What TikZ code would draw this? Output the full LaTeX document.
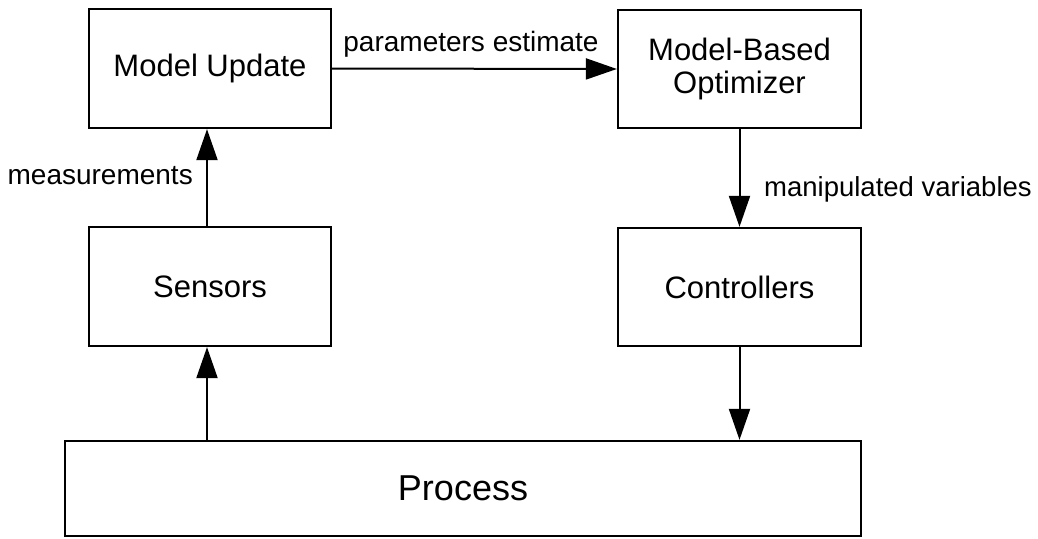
\documentclass[tikz,border=0pt]{standalone}
\usepackage{fontspec}
\setmainfont{Liberation Sans}
\usetikzlibrary{arrows.meta}
\begin{document}
\begin{tikzpicture}[x=1pt,y=-1pt,
  blk/.style={draw=black,line width=2.3pt,inner sep=0pt,align=center,
    font=\fontsize{31}{33}\selectfont},
  lbl/.style={inner sep=0pt,font=\fontsize{28}{30}\selectfont},
  arr/.style={line width=2pt,-{Triangle[length=31pt,width=21pt]}}]
\useasboundingbox (0,0) rectangle (1038,538);
\node[blk,minimum width=242pt,minimum height=119pt] (mu) at (210,68.5) {Model Update};
\node[blk,minimum width=243pt,minimum height=118pt] (opt) at (739.5,69) {Model-Based\\Optimizer};
\node[blk,minimum width=242pt,minimum height=119pt] (sens) at (210,286.5) {Sensors};
\node[blk,minimum width=243pt,minimum height=118pt] (ctrl) at (739.5,287) {Controllers};
\node[blk,minimum width=796pt,minimum height=95pt,font=\fontsize{36}{38}\selectfont] (proc) at (463,488.5) {Process};
\coordinate (s1) at ([xshift=-3pt]sens.north);
\coordinate (s2) at ([xshift=-3pt]sens.south);
\coordinate (m1) at ([xshift=-3pt]mu.south);
\draw[arr] (mu.east) -- (opt.west);
\draw[arr] (s1) -- (m1);
\draw[arr] (opt.south) -- (ctrl.north);
\draw[arr] (s2 |- proc.north) -- (s2);
\draw[arr] (ctrl.south) -- (ctrl.south |- proc.north);
\node[lbl,anchor=base] (lpe) at (471,51) {parameters estimate};
\node[lbl,anchor=base east] (lme) at (193,184) {measurements};
\node[lbl,anchor=base west,font=\fontsize{27.5}{30}\selectfont] (lmv) at (764,196) {manipulated variables};
\end{tikzpicture}
\end{document}
